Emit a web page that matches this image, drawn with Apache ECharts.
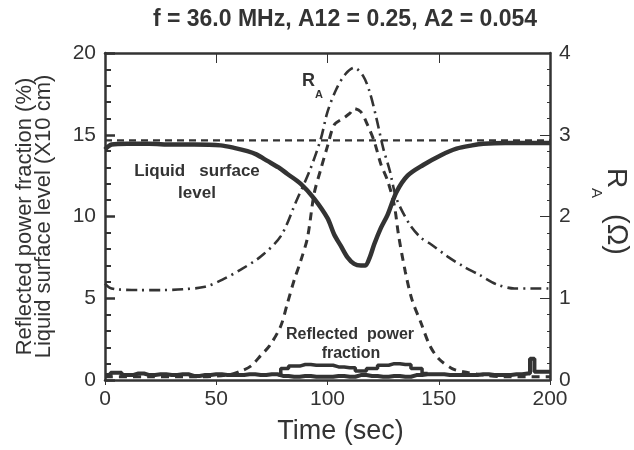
<!DOCTYPE html>
<html>
<head>
<meta charset="utf-8">
<script src="https://cdn.jsdelivr.net/npm/echarts@6/dist/echarts.min.js"></script>
<style>html,body{margin:0;padding:0;background:#fff;}#c{width:634px;height:450px;}</style>
</head>
<body>
<div id="c"></div>
<script>
// ---- data ----
var titleText = 'f = 36.0 MHz, A12 = 0.25, A2 = 0.054';
var xTicks = [0, 50, 100, 150, 200];
var leftTicks = [0, 5, 10, 15, 20];
var rightTicks = [0, 1, 2, 3, 4];

var levelTime = [0, 3, 10, 20, 30, 40, 52, 58, 64, 68, 73, 78, 82, 88, 94, 100, 103, 106, 109, 112, 115, 117, 119, 121, 124, 127, 131, 136, 143, 151, 158, 165, 170, 180, 190, 200];
var levelVal  = [14.1, 14.4, 14.45, 14.45, 14.4, 14.4, 14.35, 14.2, 14.0, 13.8, 13.4, 13.0, 12.6, 12.0, 11.1, 9.9, 8.9, 8.2, 7.5, 7.1, 7.0, 7.0, 7.5, 8.3, 9.3, 10.1, 11.5, 12.5, 13.15, 13.75, 14.15, 14.35, 14.45, 14.5, 14.5, 14.5];
var refLineTime = [0, 200];
var refLineVal  = [14.65, 14.65];
var raTime = [0, 2, 5, 15, 25, 35, 45, 53, 61, 70, 79, 86, 92, 97, 100, 104, 108, 112, 116, 119, 122, 125, 128, 131, 137, 142, 146, 154, 161, 168, 176, 184, 192, 200];
var raVal  = [1.18, 1.13, 1.11, 1.10, 1.10, 1.11, 1.14, 1.23, 1.35, 1.51, 1.76, 2.19, 2.56, 2.95, 3.28, 3.56, 3.74, 3.82, 3.72, 3.52, 3.20, 2.84, 2.56, 2.22, 1.90, 1.74, 1.67, 1.51, 1.39, 1.29, 1.17, 1.12, 1.12, 1.12];
var rpfTime = [0, 20, 40, 55, 62, 66, 70, 74, 79, 82, 85, 88, 91, 94, 97, 100, 103, 107, 110, 112, 115, 118, 121, 124, 127, 130, 132, 135, 138, 142, 146, 150, 156, 161, 170, 180, 200];
var rpfVal  = [0.2, 0.2, 0.2, 0.3, 0.6, 0.9, 1.5, 2.1, 3.3, 4.7, 6.1, 7.3, 8.7, 11.4, 12.9, 14.3, 15.6, 16.0, 16.3, 16.6, 16.4, 15.6, 14.6, 13.2, 12.2, 10.7, 8.8, 6.6, 4.9, 3.5, 2.1, 1.3, 0.7, 0.5, 0.3, 0.2, 0.2];
var lowTime = [0, 5, 10, 15, 20, 25, 30, 35, 40, 45, 50, 55, 60, 65, 70, 75, 80, 85, 90, 95, 100, 105, 110, 115, 120, 125, 130, 135, 140, 145, 150, 155, 160, 165, 170, 175, 180, 185, 190, 192, 194, 200];
var lowVal  = [0.3, 0.45, 0.3, 0.4, 0.3, 0.35, 0.3, 0.35, 0.25, 0.3, 0.35, 0.3, 0.3, 0.35, 0.3, 0.35, 0.25, 0.2, 0.25, 0.2, 0.2, 0.25, 0.2, 0.3, 0.25, 0.2, 0.25, 0.2, 0.3, 0.35, 0.35, 0.3, 0.3, 0.3, 0.35, 0.3, 0.3, 0.35, 0.4, 1.3, 0.5, 0.5];
var upTime = [78, 80, 85, 90, 95, 100, 105, 110, 115, 120, 125, 130, 135, 140, 145];
var upVal  = [0.3, 0.7, 0.85, 0.95, 0.9, 0.9, 0.8, 0.75, 0.55, 0.7, 0.9, 1.0, 0.95, 0.7, 0.4];

function pairs(t, v) { return t.map(function (x, i) { return [x, v[i]]; }); }

var INK = '#333333';
var FONT = '"Liberation Sans", Arial, Helvetica, sans-serif';

var chart = echarts.init(document.getElementById('c'), null, { renderer: 'canvas' });

chart.setOption({
  animation: false,
  backgroundColor: '#ffffff',
  title: {
    text: titleText, left: 340, top: 3, textAlign: 'center',
    textStyle: { fontSize: 23, fontWeight: 'bold', color: INK, fontFamily: FONT }
  },
  grid: { left: 105, right: 84, top: 53, bottom: 65, containLabel: false },
  xAxis: [
    {
      type: 'value', position: 'bottom', min: 0, max: 200, interval: 50,
      axisLine: { show: true, onZero: false, lineStyle: { color: INK, width: 2.5 } },
      axisTick: { show: true },
      splitLine: { show: false },
      axisLabel: { color: INK, fontSize: 21, fontFamily: FONT, margin: 9 },
      name: 'Time (sec)', nameLocation: 'middle', nameGap: 38,
      nameTextStyle: { color: INK, fontSize: 27, fontFamily: FONT, padding: [0, 0, 0, 26] }
    },
    {
      type: 'value', position: 'top', min: 0, max: 200, interval: 50,
      axisLine: { show: true, onZero: false, lineStyle: { color: INK, width: 2.5 } },
      axisTick: { show: true, inside: true, length: 10 },
      splitLine: { show: false },
      axisLabel: { show: false }
    }
  ],
  yAxis: [
    {
      type: 'value', position: 'left', min: 0, max: 20, interval: 5,
      axisLine: { show: true, onZero: false, lineStyle: { color: INK, width: 2.5 } },
      axisTick: { show: true, inside: true, length: 10, lineStyle: { color: INK, width: 2.5 } },
      minorTick: { show: true, splitNumber: 5, length: 6, lineStyle: { color: INK, width: 2 } },
      splitLine: { show: false },
      axisLabel: { color: INK, fontSize: 21, fontFamily: FONT, margin: 9 },
      name: 'Reflected power fraction (%)\nLiquid surface level (X10 cm)',
      nameLocation: 'middle', nameGap: 52, nameRotate: 90,
      nameTextStyle: { color: INK, fontSize: 22, lineHeight: 19, fontFamily: FONT }
    },
    {
      type: 'value', position: 'right', min: 0, max: 4, interval: 1,
      axisLine: { show: true, onZero: false, lineStyle: { color: INK, width: 2.5 } },
      axisTick: { show: true, inside: true, length: 10 },
      minorTick: { show: true, splitNumber: 5 },
      splitLine: { show: false },
      axisLabel: { color: INK, fontSize: 21, fontFamily: FONT, margin: 9 }
    }
  ],
  series: [
    { name: 'Dashed reference', type: 'line', data: pairs(refLineTime, refLineVal), showSymbol: false, silent: true, lineStyle: { color: INK, width: 2.2, type: [7, 5] }, z: 2 },
    { name: 'Liquid surface level', type: 'line', data: pairs(levelTime, levelVal), showSymbol: false, smooth: 0.3, lineStyle: { color: INK, width: 4.5 }, z: 3 },
    { name: 'R_A', type: 'line', yAxisIndex: 1, data: pairs(raTime, raVal), showSymbol: false, smooth: 0.3, lineStyle: { color: INK, width: 2.6, type: [11, 5, 2, 5] }, z: 3 },
    { name: 'Reflected power fraction', type: 'line', data: pairs(rpfTime, rpfVal), showSymbol: false, smooth: 0.3, lineStyle: { color: INK, width: 3, type: [8, 6] }, z: 3 },
    { name: 'Bottom trace', type: 'line', data: pairs(lowTime, lowVal), showSymbol: false, step: 'middle', lineStyle: { color: INK, width: 4 }, z: 3 },
    { name: 'Bottom trace upper', type: 'line', data: pairs(upTime, upVal), showSymbol: false, step: 'middle', lineStyle: { color: INK, width: 3.5 }, z: 3 }
  ],
  graphic: [
    { type: 'text', x: 197, y: 163, style: { text: 'Liquid   surface', font: 'bold 17px ' + FONT, fill: INK, textAlign: 'center' } },
    { type: 'text', x: 197, y: 185, style: { text: 'level', font: 'bold 17px ' + FONT, fill: INK, textAlign: 'center' } },
    { type: 'text', x: 302, y: 72, style: { text: 'R', font: 'bold 18px ' + FONT, fill: INK } },
    { type: 'text', x: 315, y: 89, style: { text: 'A', font: 'bold 11px ' + FONT, fill: INK } },
    { type: 'text', x: 350, y: 327, style: { text: 'Reflected  power', font: 'bold 16px ' + FONT, fill: INK, textAlign: 'center' } },
    { type: 'text', x: 351, y: 346, style: { text: 'fraction', font: 'bold 16px ' + FONT, fill: INK, textAlign: 'center' } },
    {
      type: 'group', x: 630, y: 168, rotation: -Math.PI / 2,
      children: [
        { type: 'text', x: 0, y: 0, style: { text: 'R', font: '28px ' + FONT, fill: INK } },
        { type: 'text', x: 20, y: 26, style: { text: 'A', font: '15px ' + FONT, fill: INK } },
        { type: 'text', x: 46, y: 0, style: { text: '(\u03A9)', font: '29px ' + FONT, fill: INK } }
      ]
    }
  ]
});
</script>
</body>
</html>
